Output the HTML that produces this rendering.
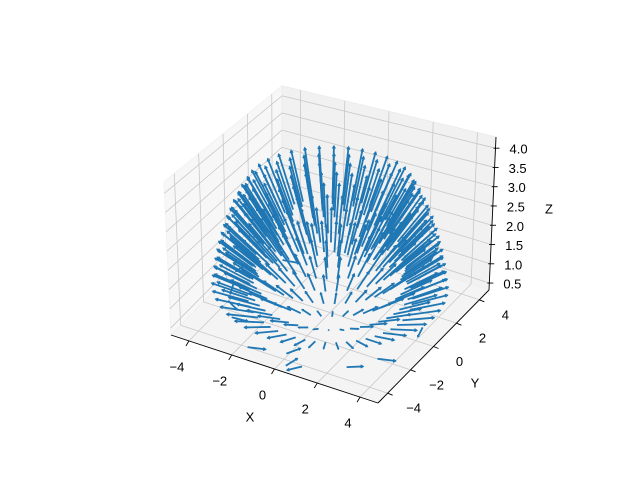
<!DOCTYPE html>
<html><head><meta charset="utf-8"><style>
html,body{margin:0;padding:0;background:#fff;}
svg{display:block;font-family:"Liberation Sans","DejaVu Sans",sans-serif;}
</style></head><body>
<svg id="chart" width="640" height="480" viewBox="0 0 640 480">
<g id="panes"></g>
<g id="grid"></g>
<g id="axes"></g>
<g id="arrows"></g>
</svg>
<script>
// ---- data ----
const xTicks = [-4, -2, 0, 2, 4];
const yTicks = [-4, -2, 0, 2, 4];
const zTicks = [0.5, 1.0, 1.5, 2.0, 2.5, 3.0, 3.5, 4.0];
const zTickLabels = ["0.5", "1.0", "1.5", "2.0", "2.5", "3.0", "3.5", "4.0"];
const shellRadius = 3.45;
const shellCenterZ = 0.0;
const ringElevDeg = [12, 17, 22, 27, 32, 37, 42, 47];
const ringCounts = [50, 48, 46, 44, 42, 40, 38, 36];
const arrowLength = 1.5;
// extra scattered floor arrows: x, y, z, u, v, w
const floorX = [-4.3, -3.9, -3.2, -4.5, -1.6, 1.0, 2.6, 3.4, 0.4, 3.9, -3.4, 0.0];
const floorY = [-0.4, -1.6, -2.6, 1.2, -4.2, -4.3, -3.4, -2.2, -4.6, 0.8, 2.2, -3.8];
const floorZ = [0.4, 0.4, 0.4, 0.4, 0.4, 0.4, 0.4, 0.4, 0.4, 0.4, 0.4, 0.4];
const floorU = [0.3, 0.8, 0.9, -0.2, 0.9, -0.5, 0.7, 0.9, 0.2, 0.2, 0.9, 0.4];
const floorV = [-0.9, -0.5, 0.1, -0.9, 0.3, -0.7, 0.5, 0.3, 0.9, -0.9, 0.2, 0.8];
const floorW = [0, 0, 0, 0, 0, 0, 0, 0, 0, 0, 0, 0];

// ---- axes / projection ----
const xmin = -4.84, xmax = 4.84, ymin = -4.84, ymax = 4.84, zmin = 0.32, zmax = 4.29;
function P(x, y, z) {
  const nx = (x - xmin) / (xmax - xmin), ny = (y - ymin) / (ymax - ymin), nz = (z - zmin) / (zmax - zmin);
  const sx = 171 + nx * 207 + ny * 111 + nz * 7 * (nx + ny - 1);
  const sy = 335 + nx * 68 - ny * 113 - nz * 153 * (1 + 0.11 * (nx - ny));
  return [sx, sy];
}
const NS = "http://www.w3.org/2000/svg";
function mk(tag, attrs, parent) {
  const e = document.createElementNS(NS, tag);
  for (const k in attrs) e.setAttribute(k, attrs[k]);
  parent.appendChild(e);
  return e;
}
function pts(arr) { return arr.map(p => p.join(",")).join(" "); }
const gP = document.getElementById("panes"), gG = document.getElementById("grid"),
      gA = document.getElementById("axes"), gR = document.getElementById("arrows");

let e;
e = mk("polygon", {points: pts([P(xmin,ymin,zmin),P(xmin,ymax,zmin),P(xmin,ymax,zmax),P(xmin,ymin,zmax)]), fill:"#f7f7f7", stroke:"#f2f2f2"}, gP);


e = mk("polygon", {points: pts([P(xmin,ymax,zmin),P(xmax,ymax,zmin),P(xmax,ymax,zmax),P(xmin,ymax,zmax)]), fill:"#f1f1f1", stroke:"#ececec"}, gP);


e = mk("polygon", {points: pts([P(xmin,ymin,zmin),P(xmax,ymin,zmin),P(xmax,ymax,zmin),P(xmin,ymax,zmin)]), fill:"#f4f4f4", stroke:"#efefef"}, gP);



function line(a, b, attrs, parent, name) {
  const l = mk("line", Object.assign({x1:a[0], y1:a[1], x2:b[0], y2:b[1]}, attrs), parent);
  
  
  return l;
}
const gridStyle = {stroke:"#c8c8c8", "stroke-width":0.8};
xTicks.forEach(x => {
  line(P(x,ymin,zmin), P(x,ymax,zmin), gridStyle, gG, "x-grid-floor");
  line(P(x,ymax,zmin), P(x,ymax,zmax), gridStyle, gG, "x-grid-back");
});
yTicks.forEach(y => {
  line(P(xmin,y,zmin), P(xmax,y,zmin), gridStyle, gG, "y-grid-floor");
  line(P(xmin,y,zmin), P(xmin,y,zmax), gridStyle, gG, "y-grid-side");
});
zTicks.forEach(z => {
  line(P(xmin,ymin,z), P(xmin,ymax,z), gridStyle, gG, "z-grid-side");
  line(P(xmin,ymax,z), P(xmax,ymax,z), gridStyle, gG, "z-grid-back");
});

const axStyle = {stroke:"#000", "stroke-width":0.9};
line(P(xmin,ymin,zmin), P(xmax,ymin,zmin), axStyle, gA, "x-axis-line");
line(P(xmax,ymin,zmin), P(xmax,ymax,zmin), axStyle, gA, "y-axis-line");
line(P(xmax,ymax,zmin), P(xmax,ymax,zmax), axStyle, gA, "z-axis-line");

function text(x, y, s, name, anchor) {
  const t = mk("text", {x:x, y:y, "font-size":13, fill:"#000", "text-anchor":anchor||"middle", "dominant-baseline":"central"}, gA);
  t.textContent = s;
  
  
}
const fmt = v => (v < 0 ? "\u2212" + Math.abs(v) : String(v));
xTicks.forEach(x => {
  const a = P(x,ymin,zmin);
  line(a, [a[0]-3, a[1]+5], axStyle, gA, "x-tick");
  text(a[0]-12, a[1]+26, fmt(x), "x-tick-label");
});
yTicks.forEach(y => {
  const a = P(xmax,y,zmin);
  line(a, [a[0]+5, a[1]+2], axStyle, gA, "y-tick");
  text(a[0]+26, a[1]+15, fmt(y), "y-tick-label");
});
zTicks.forEach((z, i) => {
  const a = P(xmax,ymax,z);
  line([a[0]-2, a[1]], [a[0]+4, a[1]], axStyle, gA, "z-tick");
  text(a[0]+14, a[1]+1, zTickLabels[i], "z-tick-label", "start");
});
text(250, 417, "X", "x-axis-title");
text(475, 383, "Y", "y-axis-title");
text(549, 209, "Z", "z-axis-title");

function arrow(x, y, z, u, v, w, len) {
  const a = P(x, y, z), b = P(x + u*len, y + v*len, z + w*len);
  const l = mk("line", {x1:a[0], y1:a[1], x2:b[0], y2:b[1], stroke:"#1f77b4", "stroke-width":1.8, "stroke-linecap":"butt"}, gR);
  
  
  const dx = b[0]-a[0], dy = b[1]-a[1], L = Math.hypot(dx, dy) || 1;
  const h = Math.min(2.5, L*0.15), ux = dx/L, uy = dy/L;
  const hd = mk("polyline", {points: pts([[b[0]-ux*h-uy*h*0.6, b[1]-uy*h+ux*h*0.6],[b[0],b[1]],[b[0]-ux*h+uy*h*0.6, b[1]-uy*h-ux*h*0.6]]), fill:"none", stroke:"#1f77b4", "stroke-width":1.2}, gR);
  
  
}
ringElevDeg.forEach((el, ri) => {
  const phi = el * Math.PI / 180, n = ringCounts[ri];
  for (let k = 0; k < n; k++) {
    const th = 2 * Math.PI * k / n + ri * 0.09;
    const u = Math.cos(phi) * Math.cos(th), v = Math.cos(phi) * Math.sin(th), w = Math.sin(phi);
    arrow(shellRadius*u, shellRadius*v, shellCenterZ + shellRadius*w, u, v, w, arrowLength);
  }
});
floorX.forEach((x, i) => arrow(x, floorY[i], floorZ[i], floorU[i], floorV[i], floorW[i], 0.8));
</script>
</body></html>
